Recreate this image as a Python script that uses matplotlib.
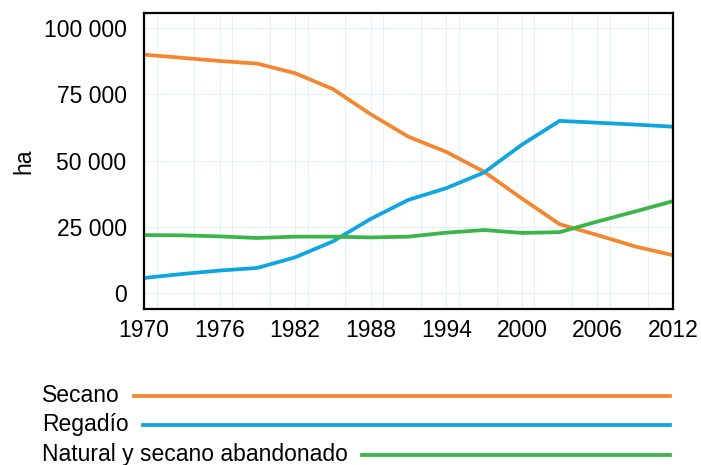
import matplotlib

matplotlib.use("Agg")
import matplotlib.pyplot as plt
from matplotlib.lines import Line2D
from matplotlib.ticker import FuncFormatter, MultipleLocator

plt.rcParams["font.family"] = ["Liberation Sans Narrow", "Liberation Sans", "DejaVu Sans"]

years = [1970, 1973, 1976, 1979, 1982, 1985, 1988, 1991, 1994, 1997, 2000, 2003, 2006, 2009, 2012]
secano = [90000, 88800, 87600, 86600, 83000, 77000, 67500, 59000, 53300, 45800, 35700, 26000, 21900, 17600, 14300]
regadio = [5700, 7200, 8500, 9500, 13500, 19500, 28000, 35200, 39600, 45500, 56000, 65000, 64300, 63600, 62800]
natural = [21900, 21800, 21400, 20800, 21300, 21300, 21000, 21300, 22800, 23800, 22700, 23000, 27000, 30800, 34700]

series = [
    ("Secano", secano, "#F5862E"),
    ("Regadío", regadio, "#0EA5E0"),
    ("Natural y secano abandonado", natural, "#3AB54A"),
]

x_ticks = [1970, 1976, 1982, 1988, 1994, 2000, 2006, 2012]
y_ticks = [0, 25000, 50000, 75000, 100000]

fig = plt.figure(figsize=(7.01, 4.65), dpi=100)
ax = fig.add_axes([0.2054, 0.3355, 0.7546, 0.6365])

for name, vals, color in series:
    ax.plot(years, vals, color=color, lw=2.7, solid_capstyle="butt")

ax.set_xlim(1970, 2012)
ax.set_ylim(-6000, 105700)
ax.set_xticks(x_ticks)
ax.xaxis.set_minor_locator(MultipleLocator(3))
ax.set_yticks(y_ticks)
ax.yaxis.set_major_formatter(FuncFormatter(lambda v, p: f"{int(v):,}".replace(",", " ")))
ax.tick_params(axis="both", which="both", length=0, labelsize=16.5)
ax.tick_params(axis="x", pad=7)
ax.tick_params(axis="y", pad=12.5)
ax.grid(True, which="both", axis="x", color="#E6F0FA", lw=0.8)
ax.grid(True, which="major", axis="y", color="#E6F0FA", lw=0.8)
ax.set_axisbelow(True)
for sp in ax.spines.values():
    sp.set_linewidth(1.6)
    sp.set_color("black")
ax.set_ylabel("ha", fontsize=16.5, labelpad=6)

# custom legend: label followed by a long line up to the right edge
fig.canvas.draw()
renderer = fig.canvas.get_renderer()
W, H = fig.bbox.width, fig.bbox.height
legend_y = [396, 425, 455]
for (name, vals, color), yp in zip(series, legend_y):
    yf = 1 - yp / H
    t = fig.text(42 / W, yf, name, fontsize=16.5, va="center", ha="left")
    bb = t.get_window_extent(renderer)
    x0 = (bb.x1 + 14) / W
    fig.add_artist(Line2D([x0, 670 / W], [yf, yf], transform=fig.transFigure,
                          color=color, lw=2.7))

fig.savefig("out.png", dpi=100)
